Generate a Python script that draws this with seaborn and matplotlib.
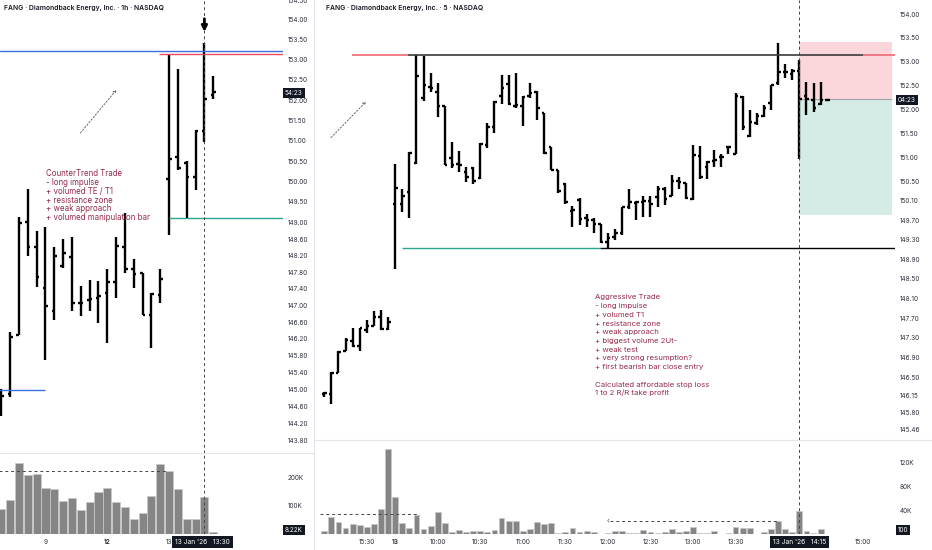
import numpy as np
import matplotlib
matplotlib.use('Agg')
import matplotlib.pyplot as plt
from matplotlib.ticker import NullLocator
from matplotlib.lines import Line2D
import seaborn as sns

sns.set_theme(style='white')
plt.rcParams['font.family'] = ['Inter', 'DejaVu Sans']

# ---------------- 1h chart (8 Jan 11:30 ... 13 Jan 14:30) ----------------
h1_open = [144.77, 144.89, 146.30, 149.02, 148.40, 147.41, 146.87, 147.96, 148.17, 147.05,
           147.14, 147.18, 147.31, 147.57, 148.41, 147.87, 147.77, 146.78, 147.25, 150.05,
           150.60, 150.46, 150.11, 151.23, 152.12]
h1_high = [145.01, 146.37, 149.14, 149.82, 148.80, 148.90, 148.41, 148.61, 148.64, 147.46,
           147.61, 147.59, 147.87, 148.64, 149.23, 148.11, 147.79, 147.30, 147.88, 153.14,
           152.78, 150.50, 151.26, 153.42, 152.59]
h1_low = [144.37, 144.83, 146.30, 148.19, 147.45, 145.70, 146.66, 147.91, 146.87, 146.74,
          146.87, 146.57, 146.10, 147.17, 147.79, 147.42, 146.78, 145.98, 147.05, 148.70,
          150.28, 149.12, 149.78, 150.96, 152.02]
h1_close = [144.85, 146.24, 149.00, 148.41, 147.68, 146.99, 148.19, 148.27, 147.07, 147.07,
            147.15, 147.23, 147.57, 148.44, 147.88, 147.75, 146.78, 147.27, 147.63, 150.54,
            150.32, 150.11, 151.24, 152.04, 152.21]
h1_vol_k = [88, 120, 250, 206, 210, 161, 158, 117, 126, 84, 113, 149, 161, 112, 94, 55, 73,
            135, 244, 221, 158, 54, 53, 129, 8.22]
h1_xtick_pos = [5, 12, 19]
h1_xtick_lab = ['9', '12', '13']
h1_price_ticks = [154.5, 154.0, 153.5, 153.0, 152.5, 152.0, 151.5, 151.0, 150.5, 150.0, 149.5,
                  149.0, 148.6, 148.2, 147.8, 147.4, 147.0, 146.6, 146.2, 145.8, 145.4, 145.0,
                  144.6, 144.2, 143.8]

# ---------------- 5m chart (12 Jan 15:10 ... 13 Jan 14:35), index 0 = 13 Jan 09:30 ----------------
m5_first = -10
m5_open = [146.17, 146.17, 146.59, 147.04, 147.24, 147.13, 147.46, 147.54, 147.73, 147.48,
           150.04, 150.04, 150.28, 150.89, 152.23, 152.46, 152.36, 152.06, 150.98, 150.87,
           150.69, 150.78, 150.57, 151.25, 151.64, 152.27, 152.53, 152.07, 152.07, 152.28,
           152.37, 151.92, 151.21, 150.73, 150.45, 149.89, 150.11, 149.74, 149.70, 149.62,
           149.26, 149.36, 149.44, 149.97, 150.06, 150.08, 150.10, 150.18, 150.35, 150.21,
           150.52, 150.47, 150.13, 151.02, 150.80, 150.93, 151.01, 151.21, 151.08, 152.25,
           151.44, 151.71, 151.86, 152.14, 152.55, 152.78, 152.74, 152.81, 152.28, 152.20,
           152.11, 152.20]
m5_high = [146.22, 146.61, 147.03, 147.30, 147.50, 147.50, 147.66, 147.85, 147.86, 147.73,
           150.87, 150.34, 151.11, 153.14, 153.11, 152.76, 152.55, 152.06, 151.32, 151.13,
           150.80, 150.80, 151.29, 151.71, 152.18, 152.71, 152.72, 152.77, 152.27, 152.56,
           152.39, 151.93, 151.22, 150.74, 150.47, 149.99, 150.15, 149.84, 149.74, 149.63,
           149.43, 149.53, 149.97, 150.35, 150.10, 150.20, 150.20, 150.40, 150.38, 150.63,
           150.60, 150.47, 151.25, 151.23, 150.93, 151.16, 151.08, 151.23, 152.35, 152.27,
           151.99, 151.93, 152.09, 152.51, 153.39, 152.95, 152.84, 153.04, 152.58, 152.55,
           152.58, 152.21]
m5_low = [146.11, 145.97, 146.59, 147.03, 147.11, 147.04, 147.41, 147.54, 147.46, 147.46,
          148.70, 149.87, 149.74, 150.87, 152.18, 152.37, 151.83, 150.84, 150.78, 150.69,
          150.49, 150.45, 150.56, 151.19, 151.50, 152.11, 152.09, 152.02, 151.65, 152.23,
          151.78, 151.08, 150.73, 150.26, 150.03, 149.57, 149.60, 149.57, 149.44, 149.24,
          149.12, 149.29, 149.39, 149.94, 149.70, 149.77, 149.77, 149.97, 150.01, 150.21,
          150.35, 150.13, 150.11, 150.56, 150.56, 150.81, 150.81, 151.08, 151.08, 151.57,
          151.43, 151.67, 151.83, 151.99, 152.51, 152.65, 152.62, 150.96, 151.88, 151.95,
          152.09, 152.19]
m5_close = [146.19, 146.59, 147.02, 147.26, 147.13, 147.50, 147.54, 147.73, 147.48, 147.63,
            150.36, 150.21, 151.10, 152.69, 152.50, 152.44, 152.06, 150.85, 150.84, 150.84,
            150.59, 150.52, 151.27, 151.64, 152.16, 152.45, 152.11, 152.09, 152.25, 152.35,
            152.02, 151.09, 150.74, 150.30, 150.08, 149.91, 149.72, 149.70, 149.63, 149.26,
            149.33, 149.43, 149.97, 150.08, 150.08, 150.10, 150.04, 150.35, 150.13, 150.52,
            150.49, 150.15, 151.04, 150.60, 150.90, 150.94, 151.01, 151.22, 152.27, 151.63,
            151.74, 151.86, 152.03, 152.51, 152.78, 152.79, 152.81, 152.22, 152.21, 152.02,
            152.20, 152.20]
m5_vol_k = [6, 29, 20.5, 10.5, 17.7, 15.5, 11.7, 16.7, 42.7, 141.7,
            61.7, 18.8, 11, 31.7, 8.3, 13.3, 37.2, 18.3, 3.8, 7.7,
            4.3, 6, 6, 3.8, 7.7, 27.2, 22.2, 22.2, 5, 8.8,
            20.5, 17.2, 18.3, 1.7, 3.8, 10, 4.3, 5.5, 3.8, 1,
            2.7, 6, 5.5, 1.7, 2.7, 6.7, 3.8, 2.2, 3.3, 8.8,
            3.3, 5, 11.7, 2.2, 2.2, 5, 1, 1.7, 12.2, 10.5,
            10, 1, 4.3, 8.3, 21.7, 8.3, 3.3, 39.3, 6, 2.2,
            8.3, 0.1]
m5_xtick_pos = [-4, 0, 6, 12, 18, 24, 30, 36, 42, 48, 66]
m5_xtick_lab = ['15:30', '13', '10:00', '10:30', '11:00', '11:30', '12:00', '12:30', '13:00',
                '13:30', '15:00']
m5_price_ticks = [154.0, 153.5, 153.0, 152.5, 152.0, 151.5, 151.0, 150.5, 150.1, 149.7, 149.3,
                  148.9, 148.5, 148.1, 147.7, 147.3, 146.9, 146.5, 146.15, 145.8, 145.46]

# trade levels
h1_resistance_blue = 153.22
h1_resistance_red = 153.14
h1_support_teal = 149.12
h1_old_level = 145.00
m5_resistance = 153.13
m5_support = 149.13
m5_stop, m5_entry, m5_target = 153.41, 152.21, 149.81

counter_lines = ["CounterTrend Trade", "- long impulse", "+ volumed TE / T1", "+ resistance zone",
                 "+ weak approach", "+ volumed manipulation bar"]
aggr_lines = ["Aggressive Trade", "- long impulse", "+ volumed T1", "+ resistance zone",
              "+ weak approach", "+ biggest volume 2Ut-", "+ weak test",
              "+ very strong resumption?", "+ first bearish bar close entry", "",
              "Calculated affordable stop loss", "1 to 2 R/R take profit"]

W, H = 932, 550
TXT = '#2a2e39'
NOTE = '#952b48'
DASH = (0, (3, 3))


def px_axes(x0, y0, x1, y1):
    return fig.add_axes([x0 / W, 1 - y1 / H, (x1 - x0) / W, (y1 - y0) / H])


def draw_ohlc(ax, x, o, h, l, c, tick):
    x = np.asarray(x, dtype=float)
    ax.vlines(x, l, h, color='black', lw=1.7)
    ax.hlines(o, x - tick, x, color='black', lw=1.7)
    ax.hlines(c, x, x + tick, color='black', lw=1.7)


def style_price_axis(ax, ticks, ylim, xlim):
    ax.set_yscale('log')
    ax.set_ylim(*ylim)
    ax.set_xlim(*xlim)
    ax.yaxis.tick_right()
    ax.set_yticks(ticks, [f'{t:.2f}' for t in ticks])
    ax.yaxis.set_minor_locator(NullLocator())
    ax.set_xticks([])
    ax.tick_params(axis='y', length=0, pad=3.6, labelsize=4.6, labelcolor=TXT)
    for s in ax.spines.values():
        s.set_visible(False)


def style_vol_axis(ax, xlim, ymax, ticks, xpos, xlab, bold):
    ax.set_xlim(*xlim)
    ax.set_ylim(0, ymax)
    ax.yaxis.tick_right()
    ax.set_yticks(ticks, [f'{t}K' for t in ticks])
    ax.set_xticks(xpos, xlab)
    ax.set_xlabel('')
    ax.set_ylabel('')
    ax.tick_params(axis='both', length=0, labelsize=4.6, labelcolor=TXT)
    ax.tick_params(axis='y', pad=3.6)
    ax.tick_params(axis='x', pad=3.5)
    for lab in ax.get_xticklabels():
        if lab.get_text() == bold:
            lab.set_fontweight('bold')
    for s in ax.spines.values():
        s.set_visible(False)


def note(x, y, lines, size):
    for i, line in enumerate(lines):
        fig.text(x / W, 1 - (y + i * 8.7) / H, line, fontsize=size, color=NOTE, va='center')


fig = plt.figure(figsize=(W / 100, H / 100), dpi=100)
fig.patch.set_facecolor('white')

# ---------------- left: 1h ----------------
h1_x = np.arange(len(h1_open))
h1_xlim = (-0.15, 31.9)
ax_h = px_axes(0, 0, 283, 453)
draw_ohlc(ax_h, h1_x, h1_open, h1_high, h1_low, h1_close, 0.3)
style_price_axis(ax_h, h1_price_ticks, (143.51, 154.50), h1_xlim)
ax_h.axhline(h1_resistance_blue, color='#3d6ee0', lw=1.0)
ax_h.hlines(h1_resistance_red, 17.9, 32, color='#ef4f5a', lw=1.0)
ax_h.hlines(h1_support_teal, 19.0, 32, color='#2aa58f', lw=1.0)
ax_h.hlines(h1_old_level, -1, 4.98, color='#3d6ee0', lw=1.0)
ax_h.axvline(23, color='#444444', lw=0.7, ls=DASH)
ax_h.annotate('', xy=(23, 153.70), xytext=(23, 154.03),
              arrowprops=dict(arrowstyle='-|>', color='black', lw=2.0, mutation_scale=8,
                              shrinkA=0, shrinkB=0))
ax_h.annotate('', xy=(13.02, 152.25), xytext=(8.95, 151.19),
              arrowprops=dict(arrowstyle='->', color='#555555', lw=0.6, ls=(0, (2, 2)),
                              mutation_scale=5, shrinkA=0, shrinkB=0))

ax_hv = px_axes(0, 454, 283, 534.4)
sns.barplot(x=h1_x, y=h1_vol_k, native_scale=True, width=0.92, color='#858585', saturation=1,
            edgecolor='#c9c9c9', linewidth=0.5, errorbar=None, ax=ax_hv)
style_vol_axis(ax_hv, h1_xlim, (534.4 - 454) / 28.7 * 100, [100, 200],
               h1_xtick_pos, h1_xtick_lab, '12')
ax_hv.hlines(221, -0.5, 18.7, color='#444444', lw=0.7, ls=DASH)
ax_hv.axvline(23, color='#444444', lw=0.7, ls=DASH)

# ---------------- right: 5m ----------------
m5_x = np.arange(len(m5_open)) + m5_first
m5_xlim = (-10.89, 70.49)
ax_m = px_axes(318, 0, 895, 439.5)
ax_m.fill_between([57, 70.07], m5_entry, m5_stop, color='#fbd6da', lw=0, zorder=0)
ax_m.fill_between([57, 70.07], m5_target, m5_entry, color='#d4ece5', lw=0, zorder=0)
ax_m.hlines(m5_entry, 57, 70.07, color='#a3a6ad', lw=0.8, zorder=1)
draw_ohlc(ax_m, m5_x, m5_open, m5_high, m5_low, m5_close, 0.36)
style_price_axis(ax_m, m5_price_ticks, (145.26, 154.30), m5_xlim)
ax_m.hlines(m5_resistance, -6.09, 1.8, color='#ef6a75', lw=1.2)
ax_m.hlines(m5_resistance, 1.8, 66.0, color='#3a3a3a', lw=1.2)
ax_m.hlines(m5_resistance, 66.0, 70.49, color='#ef6a75', lw=1.2)
ax_m.hlines(m5_support, 0.96, 28.9, color='#2aa58f', lw=1.0)
ax_m.hlines(m5_support, 28.9, 70.49, color='black', lw=1.0)
ax_m.axvline(57, color='#444444', lw=0.7, ls=DASH)
ax_m.annotate('', xy=(-4.12, 152.16), xytext=(-9.05, 151.41),
              arrowprops=dict(arrowstyle='->', color='#555555', lw=0.6, ls=(0, (2, 2)),
                              mutation_scale=5, shrinkA=0, shrinkB=0))

ax_mv = px_axes(318, 441, 895, 534.3)
sns.barplot(x=m5_x, y=m5_vol_k, native_scale=True, width=0.82, color='#858585', saturation=1,
            edgecolor='#c9c9c9', linewidth=0.5, errorbar=None, ax=ax_mv)
style_vol_axis(ax_mv, m5_xlim, (534.3 - 441) / 24 * 40, [40, 80, 120],
               m5_xtick_pos, m5_xtick_lab, '13')
ax_mv.hlines(34, -10.6, 3.03, color='#444444', lw=0.7, ls=DASH)
ax_mv.hlines(23, 30.3, 53.8, color='#444444', lw=0.7, ls=DASH)
ax_mv.text(30.0, 23, '‹', fontsize=5, color='#444444', ha='center', va='center')
ax_mv.axvline(57, color='#444444', lw=0.7, ls=DASH)

# ---------------- separators ----------------
sep = '#e3e5ea'
fig.add_artist(Line2D([0, 314 / W], [1 - 453 / H] * 2, color=sep, lw=0.8))
fig.add_artist(Line2D([314 / W, 1], [1 - 439.5 / H] * 2, color=sep, lw=0.8))
fig.add_artist(Line2D([314 / W] * 2, [0, 1], color=sep, lw=0.8))

# ---------------- texts ----------------
fig.text(4 / W, 1 - 8.3 / H, 'FANG · Diamondback Energy, Inc. · 1h · NASDAQ', fontsize=4.9,
         weight='semibold', color='#131722', va='center')
fig.text(326 / W, 1 - 8.3 / H, 'FANG · Diamondback Energy, Inc. · 5 · NASDAQ', fontsize=4.9,
         weight='semibold', color='#131722', va='center')
note(46, 174, counter_lines, 5.7)
note(595, 297.5, aggr_lines, 5.6)

box = dict(boxstyle='square,pad=0.3', fc='#131722', ec='none')
for x, y, s in [(285, 93, '54:23'), (285, 530, '8.22K'), (898, 100, '04:23'), (898, 530, '100')]:
    fig.text(x / W, 1 - y / H, s, fontsize=4.6, color='white', ha='left', va='center', bbox=box)
for x, s in [(202.7, "13 Jan '26   13:30"), (799.5, "13 Jan '26   14:15")]:
    fig.text(x / W, 1 - 541.5 / H, s, fontsize=4.8, color='white', ha='center', va='center',
             bbox=dict(boxstyle='square,pad=0.45', fc='#131722', ec='none'))

fig.savefig('out.png', dpi=100)
